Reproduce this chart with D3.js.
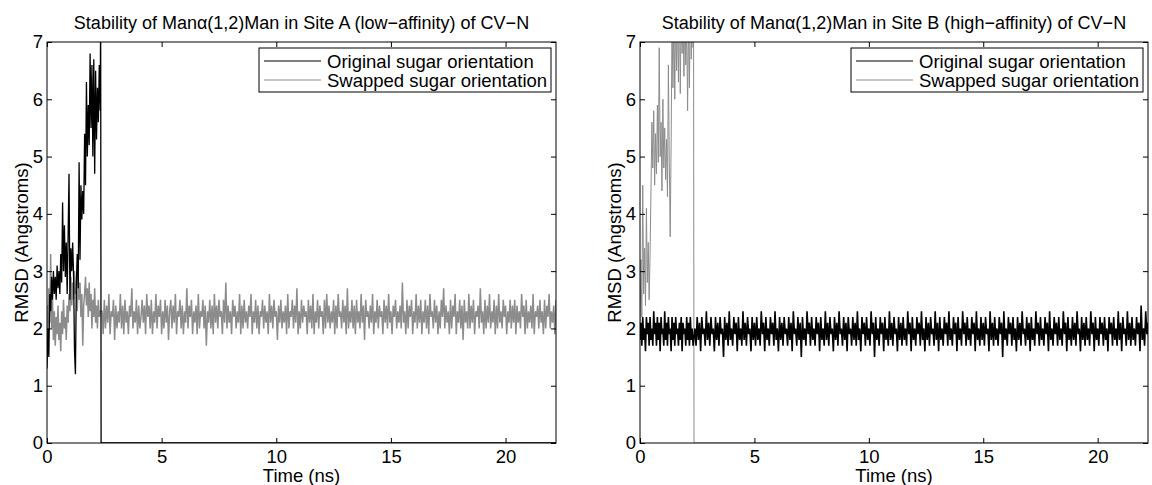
<!DOCTYPE html>
<html>
<head>
<meta charset="utf-8">
<script src="https://cdn.jsdelivr.net/npm/d3@7"></script>
<style>
  body { margin: 0; background: #fff; }
  text { font-family: "Liberation Sans", Arial, sans-serif; fill: #000; }
</style>
</head>
<body>
<div id="chart"></div>
<script>
// sampling of the traces (ns)
const dtEarly = 0.04;     // first 2.3 ns
const lateStart = 2.4;
const dtLate = 0.05;      // rest of the run
const xMax = 22.2;

const xTicks = [0, 5, 10, 15, 20];
const yTicks = [0, 1, 2, 3, 4, 5, 6, 7];
const seriesNames = ["Original sugar orientation", "Swapped sugar orientation"];

// Site A, original orientation: leaves the site after ~2.3 ns
const siteA_origEarly = [1.3, 2.0, 1.5, 2.6, 2.3, 2.9, 2.5, 3.0, 2.6, 2.9, 2.5, 3.1, 2.7, 3.0, 2.6, 3.3, 2.8, 4.2, 3.0, 3.8,
  2.9, 3.5, 2.6, 3.6, 4.7, 2.5, 3.4, 3.0, 3.5, 2.9, 1.6, 1.2, 2.8, 3.3, 2.7, 4.9, 3.2, 4.5, 3.9, 4.4,
  4.0, 5.4, 4.5, 6.3, 5.0, 5.9, 5.2, 6.8, 5.5, 6.6, 5.0, 6.7, 4.7, 6.5, 5.3, 6.2, 5.6, 6.6, 5.8];
const siteA_origTail = [[2.34, 7.6], [2.36, 0], [22.2, 0]];

// Site A, swapped orientation
const siteA_swapEarly = [2.4, 1.9, 2.7, 2.1, 3.3, 2.0, 2.5, 1.8, 2.3, 1.7, 2.2, 1.9, 2.4, 1.8, 2.1, 1.6, 2.3, 1.9, 2.5, 2.0,
  2.2, 1.8, 2.4, 2.1, 2.6, 2.3, 2.9, 2.4, 2.8, 2.5, 3.0, 2.6, 2.7, 2.3, 2.9, 2.5, 2.8, 2.2, 2.6, 1.7,
  2.4, 2.6, 2.9, 2.4, 2.7, 2.2, 2.8, 2.3, 2.6, 2.0, 2.5, 2.2, 2.7, 2.1, 2.4, 2.0, 2.5, 2.2, 2.3];
const siteA_swapLate = [
  2.3,1.9,2.5,2.0,2.4,2.1,2.6,1.9,2.3,2.2,2.5,1.8,2.4,2.0,2.3,2.1,2.6,2.0,2.4,1.9,
  2.5,2.1,2.3,1.9,2.4,2.2,2.7,2.0,2.3,2.1,2.5,1.9,2.4,2.0,2.2,2.5,2.1,2.4,1.9,2.6,
  2.2,2.4,2.0,2.5,1.9,2.3,2.1,2.6,2.0,2.4,2.2,2.5,1.9,2.3,2.0,2.5,2.1,2.4,1.8,2.3,
  2.5,2.0,2.4,2.1,2.6,1.9,2.3,2.2,2.5,2.0,2.4,1.9,2.3,2.1,2.7,2.0,2.4,2.2,2.5,1.9,
  2.3,2.1,2.4,1.9,2.6,2.0,2.3,2.2,2.5,2.0,2.4,1.7,2.3,2.1,2.5,2.0,2.4,1.9,2.6,2.1,
  2.4,2.0,2.5,2.2,2.3,1.9,2.5,2.1,2.8,2.0,2.4,2.1,2.3,1.9,2.5,2.2,2.4,2.0,2.3,2.1,
  2.6,1.9,2.4,2.0,2.5,2.1,2.3,2.0,2.4,2.2,2.6,1.9,2.3,2.1,2.5,2.0,2.4,1.9,2.3,2.2,
  2.5,2.0,2.4,2.1,2.3,1.9,2.6,2.1,2.4,2.0,2.5,2.2,2.3,1.8,2.4,2.1,2.5,2.0,2.3,2.1,
  2.4,1.9,2.6,2.0,2.3,2.2,2.5,2.0,2.4,2.1,2.7,1.9,2.3,2.0,2.5,2.1,2.4,2.2,2.3,1.9,
  2.5,2.1,2.4,2.0,2.6,1.9,2.3,2.1,2.5,2.0,2.4,2.2,2.3,1.9,2.5,2.0,2.6,2.1,2.4,2.0,
  2.3,2.1,2.5,1.9,2.4,2.0,2.6,2.2,2.3,2.0,2.5,2.1,2.4,1.9,2.7,2.0,2.3,2.1,2.5,2.0,
  2.4,1.9,2.5,2.1,2.3,2.0,2.6,2.1,2.4,1.8,2.5,2.2,2.3,2.0,2.4,2.1,2.6,1.9,2.3,2.1,
  2.5,2.0,2.4,2.2,2.3,1.9,2.5,2.1,2.4,2.0,2.6,2.1,2.3,1.9,2.4,2.2,2.5,2.0,2.3,2.1,
  2.4,2.0,2.8,2.1,2.3,1.9,2.5,2.0,2.4,2.2,2.5,1.9,2.3,2.1,2.6,2.0,2.4,2.1,2.5,1.9,
  2.3,2.1,2.5,2.0,2.4,1.9,2.6,2.2,2.3,2.0,2.5,2.1,2.4,1.9,2.3,2.0,2.5,2.2,2.7,2.0,
  2.4,2.1,2.3,1.9,2.5,2.0,2.4,2.2,2.6,1.9,2.3,2.1,2.5,2.0,2.4,1.8,2.5,2.1,2.3,2.0,
  2.6,2.0,2.4,2.1,2.5,1.9,2.3,2.2,2.4,2.0,2.7,2.1,2.3,1.9,2.5,2.0,2.4,2.1,2.6,2.0,
  2.3,2.1,2.5,1.9,2.4,2.0,2.6,2.1,2.3,2.0,2.5,2.2,2.4,1.9,2.3,2.1,2.5,2.0,2.4,2.1,
  2.5,1.9,2.4,2.1,2.3,2.0,2.6,2.2,2.4,1.9,2.5,2.0,2.3,2.1,2.4,2.0,2.6,1.9,2.3,2.2,
  2.4,2.0,2.5,2.1,2.3,1.9,2.5,2.0,2.4,2.2,2.6,2.0,2.3,2.1,2.4,1.9,2.5,2.0,2.4,2.1];

// Site B, original orientation: stable for the whole run
const siteB_origEarly = [1.8, 2.1, 1.7, 2.2, 1.8, 2.0, 1.6, 2.2, 1.9, 2.1, 1.7, 2.2, 1.8, 2.0, 1.7, 2.3, 1.9, 2.1, 1.7, 2.2,
  1.8, 2.1, 1.6, 2.2, 1.9, 2.0, 1.7, 2.3, 1.8, 2.1, 1.7, 2.2, 1.9, 2.0, 1.6, 2.2, 1.8, 2.1, 1.7, 2.2,
  1.9, 2.0, 1.7, 2.1, 1.8, 2.2, 1.6, 2.1, 1.9, 2.0, 1.7, 2.2, 1.8, 2.1, 1.7, 2.2, 1.8, 2.0, 1.7];
const siteB_origLate = [
  2.0,1.7,2.2,1.8,2.1,1.6,2.2,1.9,2.0,1.7,2.3,1.8,2.1,1.7,2.2,1.9,2.0,1.6,2.2,1.8,
  2.1,1.7,2.2,1.9,2.0,1.5,2.2,1.8,2.1,1.7,2.3,1.8,2.0,1.7,2.2,1.9,2.1,1.6,2.2,1.8,
  2.0,1.7,2.3,1.8,2.1,1.7,2.2,1.9,2.0,1.6,2.2,1.8,2.1,1.7,2.2,1.8,2.0,1.7,2.3,1.9,
  2.1,1.6,2.2,1.8,2.0,1.7,2.2,1.9,2.1,1.7,2.3,1.8,2.0,1.6,2.2,1.8,2.1,1.7,2.2,1.9,
  2.0,1.7,2.2,1.8,2.1,1.6,2.3,1.9,2.0,1.7,2.2,1.8,2.1,1.5,2.2,1.8,2.0,1.7,2.3,1.9,
  2.1,1.7,2.2,1.8,2.0,1.7,2.2,1.9,2.1,1.6,2.2,1.8,2.0,1.7,2.3,1.8,2.1,1.7,2.2,1.9,
  2.0,1.6,2.2,1.8,2.1,1.7,2.3,1.9,2.0,1.7,2.2,1.8,2.1,1.6,2.2,1.9,2.0,1.7,2.2,1.8,
  2.1,1.7,2.3,1.8,2.0,1.6,2.2,1.9,2.1,1.7,2.2,1.8,2.0,1.7,2.3,1.9,2.1,1.5,2.2,1.8,
  2.0,1.7,2.2,1.9,2.1,1.6,2.2,1.8,2.0,1.7,2.3,1.8,2.1,1.7,2.2,1.9,2.0,1.6,2.2,1.8,
  2.1,1.7,2.2,1.8,2.0,1.7,2.3,1.9,2.1,1.6,2.2,1.8,2.0,1.7,2.2,1.9,2.1,1.7,2.3,1.8,
  2.0,1.6,2.2,1.8,2.1,1.7,2.2,1.9,2.0,1.7,2.3,1.8,2.1,1.6,2.2,1.8,2.0,1.7,2.2,1.9,
  2.1,1.7,2.3,1.8,2.0,1.7,2.2,1.9,2.1,1.6,2.2,1.8,2.0,1.7,2.3,1.9,2.1,1.7,2.2,1.8,
  2.0,1.7,2.2,1.9,2.1,1.6,2.3,1.8,2.0,1.7,2.2,1.8,2.1,1.7,2.2,1.9,2.0,1.6,2.3,1.8,
  2.1,1.7,2.2,1.8,2.0,1.7,2.2,1.9,2.1,1.5,2.3,1.8,2.0,1.7,2.2,1.9,2.1,1.7,2.2,1.8,
  2.0,1.6,2.2,1.8,2.1,1.7,2.3,1.9,2.0,1.7,2.2,1.8,2.1,1.6,2.2,1.8,2.0,1.7,2.3,1.9,
  2.1,1.7,2.2,1.8,2.0,1.7,2.2,1.9,2.1,1.6,2.3,1.8,2.0,1.7,2.2,1.9,2.1,1.7,2.2,1.8,
  2.0,1.7,2.3,1.9,2.1,1.6,2.2,1.8,2.0,1.7,2.2,1.8,2.1,1.7,2.3,1.9,2.0,1.6,2.2,1.8,
  2.1,1.7,2.2,1.8,2.0,1.7,2.3,1.9,2.1,1.6,2.2,1.8,2.0,1.7,2.2,1.9,2.1,1.7,2.2,1.8,
  2.0,1.6,2.2,1.9,2.1,1.7,2.2,1.8,2.0,1.7,2.3,1.8,2.1,1.6,2.2,1.9,2.0,1.7,2.3,1.8,
  2.1,1.7,2.2,1.8,2.0,1.7,2.2,1.9,2.1,1.6,2.4,1.8,2.0,1.7,2.3,1.9,2.1,1.7,2.4,1.8];

// Site B, swapped orientation: climbs out of the site and leaves at ~2.3 ns
const siteB_swapEarly = [1.9, 3.2, 2.2, 4.5, 2.6, 3.4, 2.4, 4.1, 2.8, 3.5, 2.5, 3.3, 4.4, 5.6, 4.8, 5.8, 4.5, 5.4, 4.7, 5.9,
  4.9, 6.9, 5.0, 5.6, 4.4, 6.0, 4.8, 5.5, 4.6, 5.3, 4.3, 6.6, 4.9, 3.6, 5.2, 7.4, 6.2, 7.6, 6.0, 7.8,
  6.5, 7.5, 6.3, 7.9, 6.1, 7.6, 6.8, 7.4, 6.4, 7.7, 6.6, 7.3, 5.8, 7.5, 6.2, 7.8, 6.7, 7.4, 6.9];
const siteB_swapTail = [[2.34, 7.6], [2.36, 0], [22.2, 0]];

const colors = ["#000000", "#8c8c8c"];

function toPoints(early, late, tail) {
  let pts = early.map((v, i) => [i * dtEarly, v]);
  if (late) pts = pts.concat(late.map((v, i) => [lateStart + i * dtLate, v]));
  if (tail) pts = pts.concat(tail);
  return pts;
}

const width = 1152, height = 485;
const svg = d3.select("#chart").append("svg")
  .attr("width", width)
  .attr("height", height)
  .attr("viewBox", [0, 0, width, height]);

function drawPanel({left, right, top, bottom, title, series, id}) {
  const x = d3.scaleLinear([0, xMax], [left, right]);
  const y = d3.scaleLinear([0, 7], [bottom, top]);
  const g = svg.append("g");

  g.append("clipPath").attr("id", id)
    .append("rect")
    .attr("x", left).attr("y", top)
    .attr("width", right - left).attr("height", bottom - top);

  const line = d3.line().x(d => x(d[0])).y(d => y(d[1]));

  // gray one first so the black sits on top where they overlap
  series.slice().sort((a, b) => (b.color === colors[1]) - (a.color === colors[1]))
    .forEach(s => {
      g.append("path")
        .attr("clip-path", `url(#${id})`)
        .attr("d", line(s.points))
        .attr("fill", "none")
        .attr("stroke", s.color)
        .attr("stroke-width", s.width);
    });

  // axes, ticks pointing inward on all four sides
  const fmt = d3.format("d");
  g.append("g")
    .attr("transform", `translate(0,${bottom})`)
    .call(d3.axisBottom(x).tickValues(xTicks).tickSize(-5).tickSizeOuter(0).tickPadding(7).tickFormat(fmt))
    .call(a => a.select(".domain").remove());
  g.append("g")
    .attr("transform", `translate(0,${top})`)
    .call(d3.axisTop(x).tickValues(xTicks).tickSize(-5).tickSizeOuter(0).tickFormat(""))
    .call(a => a.select(".domain").remove());
  g.append("g")
    .attr("transform", `translate(${left},0)`)
    .call(d3.axisLeft(y).tickValues(yTicks).tickSize(-5).tickSizeOuter(0).tickPadding(4).tickFormat(fmt))
    .call(a => a.select(".domain").remove());
  g.append("g")
    .attr("transform", `translate(${right},0)`)
    .call(d3.axisRight(y).tickValues(yTicks).tickSize(-5).tickSizeOuter(0).tickFormat(""))
    .call(a => a.select(".domain").remove());
  g.selectAll(".tick text")
    .attr("font-size", 18.5)
    .attr("font-family", "Liberation Sans, Arial, sans-serif")
    .attr("fill", "#000");
  g.selectAll(".tick line").attr("stroke", "#000");

  g.append("rect")
    .attr("x", left).attr("y", top)
    .attr("width", right - left).attr("height", bottom - top)
    .attr("fill", "none").attr("stroke", "#000").attr("stroke-width", 1);

  g.append("text")
    .attr("x", (left + right) / 2).attr("y", 29)
    .attr("text-anchor", "middle").attr("font-size", 18)
    .text(title);
  g.append("text")
    .attr("x", (left + right) / 2).attr("y", height - 3)
    .attr("text-anchor", "middle").attr("font-size", 18.5)
    .text("Time (ns)");
  g.append("text")
    .attr("transform", `translate(${left - 19},${(top + bottom) / 2}) rotate(-90)`)
    .attr("text-anchor", "middle").attr("font-size", 18.5)
    .text("RMSD (Angstroms)");

  // legend
  const lw = 292, lh = 44;
  const lx = right - 5 - lw, ly = top + 6;
  const lg = g.append("g").attr("transform", `translate(${lx},${ly})`);
  lg.append("rect").attr("width", lw).attr("height", lh)
    .attr("fill", "#fff").attr("stroke", "#000");
  seriesNames.forEach((name, i) => {
    const yy = 13 + i * 19;
    lg.append("line").attr("x1", 5).attr("x2", 62).attr("y1", yy).attr("y2", yy)
      .attr("stroke", colors[i]).attr("stroke-width", 1);
    lg.append("text").attr("x", 68).attr("y", yy + 6.5).attr("font-size", 18.5).text(name);
  });
}

drawPanel({
  id: "clipA", left: 47, right: 556, top: 42, bottom: 443,
  title: "Stability of Manα(1,2)Man in Site A (low\u2212affinity) of CV\u2212N",
  series: [
    {color: colors[0], width: 1.3, points: toPoints(siteA_origEarly, null, siteA_origTail)},
    {color: colors[1], width: 1.5, points: toPoints(siteA_swapEarly, siteA_swapLate, null)}
  ]
});

drawPanel({
  id: "clipB", left: 640, right: 1148, top: 42, bottom: 443,
  title: "Stability of Manα(1,2)Man in Site B (high\u2212affinity) of CV\u2212N",
  series: [
    {color: colors[0], width: 1.6, points: toPoints(siteB_origEarly, siteB_origLate, null)},
    {color: colors[1], width: 1, points: toPoints(siteB_swapEarly, null, siteB_swapTail)}
  ]
});
</script>
</body>
</html>
